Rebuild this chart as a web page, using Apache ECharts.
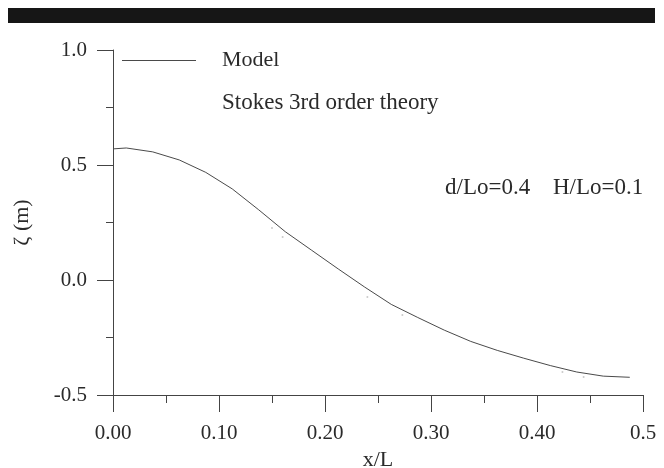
<!DOCTYPE html>
<html>
<head>
<meta charset="utf-8">
<script src="https://cdn.jsdelivr.net/npm/echarts@6/dist/echarts.min.js"></script>
<style>
  html, body { margin: 0; padding: 0; background: #fff; }
  #chart { width: 664px; height: 468px; }
</style>
</head>
<body>
<div id="chart"></div>
<script>
// Free-surface elevation over half a wavelength
var modelX = [0, 0.0125, 0.0375, 0.0625, 0.0875, 0.1125, 0.1375, 0.1625, 0.1875, 0.2125,
              0.2375, 0.2625, 0.2875, 0.3125, 0.3375, 0.3625, 0.3875, 0.4125, 0.4375, 0.4625, 0.4875];
var modelEta = [0.570, 0.574, 0.557, 0.522, 0.468, 0.396, 0.305, 0.210, 0.129, 0.048,
                -0.031, -0.106, -0.163, -0.218, -0.267, -0.306, -0.340, -0.372, -0.400, -0.418, -0.423];

// Stokes 3rd order theory samples
var stokesX = [0.150, 0.160, 0.240, 0.273, 0.424, 0.444];
var stokesEta = [0.226, 0.187, -0.074, -0.152, -0.400, -0.422];

var xTicks = { min: 0, max: 0.5, step: 0.1 };
var yTicks = { min: -0.5, max: 1.0, step: 0.5 };

var legendNames = ['Model', 'Stokes 3rd order theory'];
var caseLabels = ['d/Lo=0.4', 'H/Lo=0.1'];

var serif = '"Liberation Serif", "Times New Roman", serif';
var ink = '#2a2a2a';
var lineColor = '#4a4a4a';

function pairs(xs, ys) {
  return xs.map(function (x, i) { return [x, ys[i]]; });
}

var chart = echarts.init(document.getElementById('chart'), null, { renderer: 'canvas' });

chart.setOption({
  animation: false,
  backgroundColor: '#ffffff',
  grid: { left: 113, right: 21, top: 50, bottom: 73, containLabel: false, outerBoundsMode: 'none' },
  xAxis: {
    type: 'value',
    min: xTicks.min, max: xTicks.max, interval: xTicks.step,
    name: 'x/L',
    nameLocation: 'middle',
    nameGap: 50,
    nameTextStyle: { fontFamily: serif, fontSize: 22, color: ink },
    axisLine: { onZero: false, lineStyle: { color: '#444', width: 1 } },
    axisTick: { show: true, inside: false, length: 17, lineStyle: { color: '#444' } },
    minorTick: { show: true, splitNumber: 2, length: 8, lineStyle: { color: '#444' } },
    splitLine: { show: false },
    axisLabel: {
      margin: 28,
      fontFamily: serif, fontSize: 21, color: ink,
      formatter: function (v) {
        return Math.abs(v - 0.5) < 1e-9 ? '0.5' : v.toFixed(2);
      }
    }
  },
  yAxis: {
    type: 'value',
    min: yTicks.min, max: yTicks.max, interval: yTicks.step,
    name: '\u03b6 (m)',
    nameLocation: 'middle',
    nameGap: 80,
    nameTextStyle: { fontFamily: serif, fontSize: 22, color: ink },
    axisLine: { show: true, onZero: false, lineStyle: { color: '#444', width: 1 } },
    axisTick: { show: true, inside: false, length: 16, lineStyle: { color: '#444' } },
    minorTick: { show: true, splitNumber: 2, length: 7, lineStyle: { color: '#444' } },
    splitLine: { show: false },
    axisLabel: {
      margin: 26,
      fontFamily: serif, fontSize: 21, color: ink,
      formatter: function (v) { return v.toFixed(1); }
    }
  },
  graphic: [
    // header band
    {
      type: 'rect',
      left: 8, top: 8,
      shape: { width: 647, height: 15 },
      style: { fill: '#161616' }
    },
    // key
    {
      type: 'line',
      shape: { x1: 122, y1: 60.5, x2: 196, y2: 60.5 },
      style: { stroke: lineColor, lineWidth: 1 }
    },
    {
      type: 'text',
      x: 222, y: 60,
      style: { text: legendNames[0], font: '22px ' + serif, fill: ink, verticalAlign: 'middle' }
    },
    {
      type: 'text',
      x: 222, y: 103,
      style: { text: legendNames[1], font: '23px ' + serif, fill: ink, verticalAlign: 'middle' }
    },
    // case parameters
    {
      type: 'text',
      x: 445, y: 188,
      style: { text: caseLabels[0], font: '23px ' + serif, fill: ink, verticalAlign: 'middle' }
    },
    {
      type: 'text',
      x: 553, y: 188,
      style: { text: caseLabels[1], font: '23px ' + serif, fill: ink, verticalAlign: 'middle' }
    }
  ],
  series: [
    {
      name: legendNames[0],
      type: 'line',
      data: pairs(modelX, modelEta),
      showSymbol: false,
      symbol: 'none',
      smooth: false,
      lineStyle: { color: lineColor, width: 1 },
      itemStyle: { color: lineColor },
      z: 3
    },
    {
      name: legendNames[1],
      type: 'scatter',
      data: pairs(stokesX, stokesEta),
      symbol: 'circle',
      symbolSize: 2,
      itemStyle: { color: '#bdbdbd' },
      z: 2
    }
  ]
});
</script>
</body>
</html>
